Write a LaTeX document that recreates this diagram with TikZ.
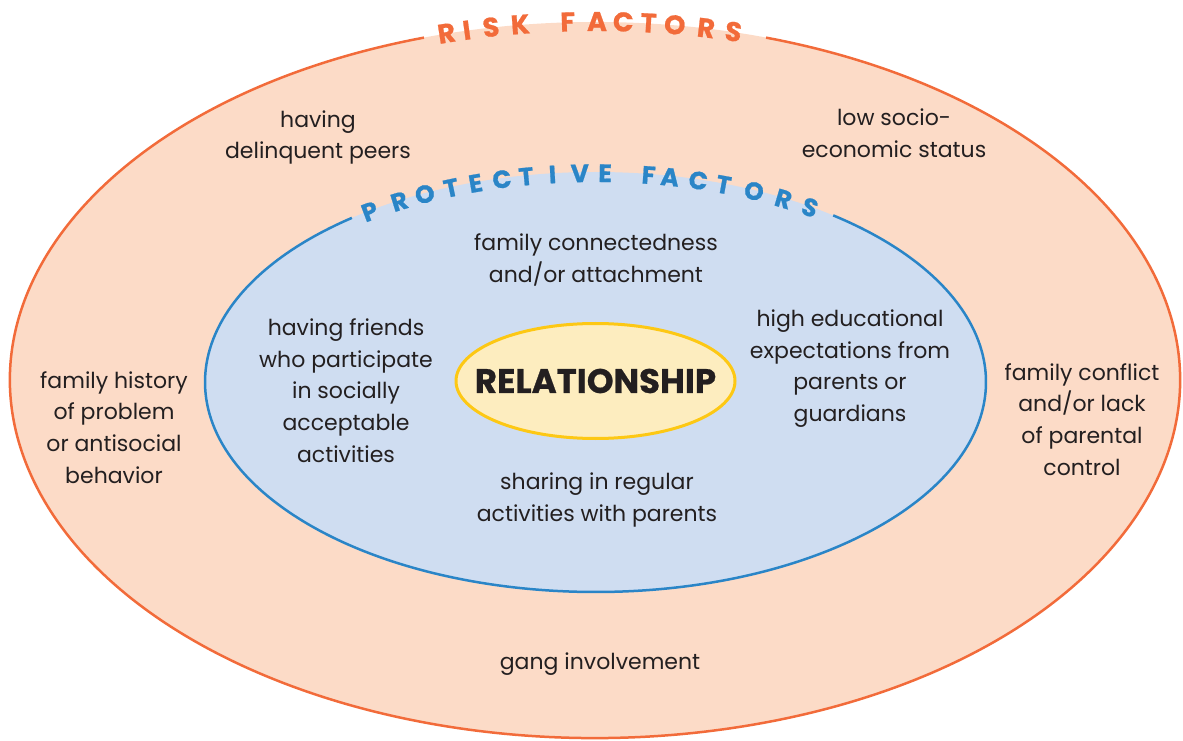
\documentclass[tikz,border=0pt]{standalone}
\usepackage{fontspec}
\setmainfont{Poppins}
\newfontfamily\heavyfont{Poppins}[BoldFeatures={FakeBold=0.8}]
\usetikzlibrary{shapes.geometric}
\definecolor{riskfill}{HTML}{FCDBC7}
\definecolor{riskline}{HTML}{F26B3A}
\definecolor{protfill}{HTML}{CFDDF1}
\definecolor{protline}{HTML}{2A85C7}
\definecolor{relfill}{HTML}{FDEDBF}
\definecolor{relline}{HTML}{FDC814}
\definecolor{ink}{HTML}{231F20}
\begin{document}
\begin{tikzpicture}[x=1pt,y=1pt,
  txt/.style={text=ink, align=center, font=\fontsize{22}{31.7}\selectfont, inner sep=0pt},
  risklet/.style={text=riskline, font=\heavyfont\fontsize{27}{27}\selectfont\bfseries, inner sep=0pt, anchor=base},
  protlet/.style={text=protline, font=\heavyfont\fontsize{25}{25}\selectfont\bfseries, inner sep=0pt, anchor=base},
  reltxt/.style={inner sep=0pt, text=ink, font=\heavyfont\fontsize{34}{34}\selectfont\bfseries},
]
\useasboundingbox (0,0) rectangle (1183,740);
% outer ring
\fill[riskfill] (595,360) ellipse [x radius=585pt, y radius=358pt];
\draw[riskline, line width=2.5pt] (595,360) ++(107:585pt and 358pt)
  arc[start angle=107, end angle=433, x radius=585pt, y radius=358pt];
% inner ring
\fill[protfill] (595.5,358) ellipse [x radius=390.5pt, y radius=210pt];
\draw[protline, line width=2.5pt] (595.5,358) ++(128.6:390.5pt and 210pt)
  arc[start angle=128.6, end angle=412.5, x radius=390.5pt, y radius=210pt];
% centre
\filldraw[draw=relline, fill=relfill, line width=3pt] (595.5,359) ellipse [x radius=139.5pt, y radius=57.5pt];
\node[reltxt] (rel) at (595.5,359) {RELATIONSHIP};
% curved titles
\foreach \ch/\dx [count=\i] in {R/-147,I/-127,S/-103,K/-74,F/-27,A/2,C/28,T/53,O/79,R/110,S/137}{
  \pgfmathsetmacro\ct{(\dx)/576}
  \pgfmathsetmacro\st{sqrt(1-\ct*\ct)}
  \pgfmathsetmacro\rot{atan2(-349*\ct, 576*\st)}
  \pgfmathsetmacro\px{595+(\dx)}
  \pgfmathsetmacro\py{360+349*\st}
  \node[risklet, rotate=\rot] (risk\i) at (\px,\py) {\ch};
}
\foreach \ch/\dx [count=\i] in {P/-222.5,R/-193.5,O/-168.5,T/-142.5,E/-118.5,C/-92.5,T/-68.5,I/-42.5,V/-15.5,E/9.5,F/52.5,A/73.5,C/101.5,T/126.5,O/156.5,R/185.5,S/211.5}{
  \pgfmathsetmacro\ct{(\dx)/380.5}
  \pgfmathsetmacro\st{sqrt(1-\ct*\ct)}
  \pgfmathsetmacro\rot{atan2(-200*\ct, 380.5*\st)}
  \pgfmathsetmacro\px{595.5+(\dx)}
  \pgfmathsetmacro\py{358+200*\st}
  \node[protlet, rotate=\rot] (prot\i) at (\px,\py) {\ch};
}
% risk factors
\node[txt] (peers) at (318,602.5) {having\\delinquent peers};
\node[txt] (socio) at (894,607) {low socio-\\economic status};
\node[txt] (history) at (114,312.5) {family history\\of problem\\or antisocial\\behavior};
\node[txt] (conflict) at (1082,320.5) {family conflict\\and/or lack\\of parental\\control};
\node[txt] (gang) at (600,76) {gang involvement};
% protective factors
\node[txt] (connect) at (596,480) {family connectedness\\and/or attachment};
\node[txt] (friends) at (346,349.5) {having friends\\who participate\\in socially\\acceptable\\activities};
\node[txt] (expect) at (850,371.5) {high educational\\expectations from\\parents or\\guardians};
\node[txt] (sharing) at (597,240) {sharing in regular\\activities with parents};
\end{tikzpicture}
\end{document}
